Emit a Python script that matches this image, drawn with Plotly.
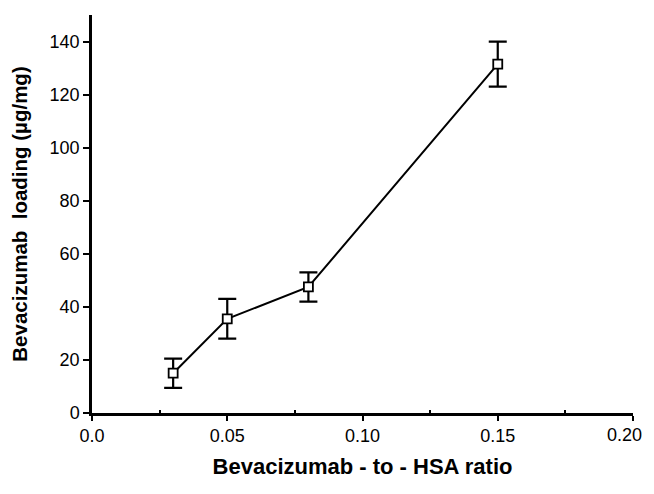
import plotly.graph_objects as go

ratio = [0.03, 0.05, 0.08, 0.15]
loading = [15.0, 35.5, 47.5, 131.5]
err = [5.5, 7.5, 5.5, 8.5]
x_tick_vals = [0, 0.05, 0.10, 0.15, 0.20]
x_tick_text = ["0.0", "0.05", "0.10", "0.15", "0.20"]

fig = go.Figure()
fig.add_trace(go.Scatter(
    x=ratio, y=loading, mode="lines+markers",
    line=dict(color="black", width=2),
    marker=dict(symbol="square", size=9, color="white", line=dict(color="black", width=1.8)),
    error_y=dict(type="data", array=err, visible=True, color="black", thickness=2.2, width=9),
    showlegend=False,
))

font = "Liberation Sans, Arial, sans-serif"
# the page body has an 8px margin; keep the figure small enough to avoid scrollbars
fig.update_layout(
    width=646, height=478,
    margin=dict(l=84, r=21, t=7, b=73),
    paper_bgcolor="white", plot_bgcolor="white",
    font=dict(family=font, color="black", size=18),
)
# last tick label is drawn as an annotation nudged left so it is not clipped at the edge
fig.add_annotation(
    x=x_tick_vals[-1], xref="x", y=0, yref="paper", text=x_tick_text[-1],
    showarrow=False, xanchor="right", yanchor="middle", xshift=11, yshift=-22,
    font=dict(size=18, family=font, color="black"),
)
fig.update_xaxes(
    range=[0, 0.2], tickvals=x_tick_vals,
    ticktext=x_tick_text[:-1] + [""],
    showgrid=False, zeroline=False, showline=True, linecolor="black", linewidth=2.5,
    ticks="outside", ticklen=5, tickwidth=2, tickcolor="black",
    minor=dict(tickvals=[0.025, 0.075, 0.125, 0.175], ticks="inside", ticklen=3, tickwidth=2, tickcolor="black"),
    title=dict(text="<b>Bevacizumab - to - HSA ratio</b>", font=dict(size=22), standoff=14),
    ticklabeloverflow="allow",
    automargin=False,
)
fig.update_yaxes(
    range=[0, 150], tickvals=[0, 20, 40, 60, 80, 100, 120, 140],
    showgrid=False, zeroline=False, showline=True, linecolor="black", linewidth=2.5,
    ticks="outside", ticklen=6, tickwidth=2, tickcolor="black",
    title=dict(text="<b>Bevacizumab  loading (µg/mg)</b>", font=dict(size=20.5), standoff=17),
    automargin=False,
)
fig.write_html("out.html")
